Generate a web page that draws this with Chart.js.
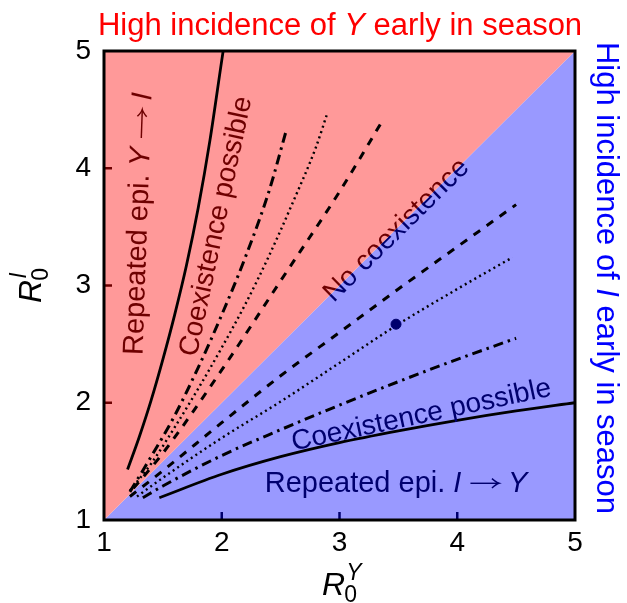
<!DOCTYPE html>
<html>
<head>
<meta charset="utf-8">
<script src="https://cdn.jsdelivr.net/npm/chart.js@4.4.1/dist/chart.umd.min.js"></script>
<style>
  html, body { margin: 0; padding: 0; background: #fff; }
</style>
</head>
<body>
<canvas id="chart" width="627" height="603"></canvas>
<script>
// axis range and ticks
const axisMin = 1;
const axisMax = 5;
const tickValues = [1, 2, 3, 4, 5];

// region boundary (diagonal R0^I = R0^Y)
const diagX = [1, 5];
const diagY = [1, 5];

// curves above the diagonal (Y early)
const redSolidX = [1.2, 1.3, 1.4, 1.5, 1.6, 1.7, 1.8, 1.9, 2.0, 2.012];
const redSolidY = [1.43, 1.71, 2.02, 2.37, 2.75, 3.17, 3.66, 4.24, 4.92, 5.0];
const redDashDotX = [1.22, 1.4, 1.6, 1.8, 2.0, 2.2, 2.4, 2.55];
const redDashDotY = [1.24, 1.54, 1.89, 2.3, 2.75, 3.24, 3.8, 4.33];
const redDottedX = [1.22, 1.4, 1.6, 1.8, 2.0, 2.2, 2.4, 2.6, 2.8, 2.9];
const redDottedY = [1.25, 1.48, 1.79, 2.12, 2.47, 2.84, 3.25, 3.7, 4.18, 4.48];
const redDashedX = [1.25, 1.5, 2.0, 2.5, 3.0, 3.38];
const redDashedY = [1.27, 1.57, 2.28, 3.04, 3.8, 4.43];

// curves below the diagonal (I early)
const blueDashedX = [1.22, 1.5, 2.0, 2.5, 3.0, 3.5, 4.0, 4.5];
const blueDashedY = [1.2, 1.42, 1.83, 2.23, 2.6, 2.97, 3.33, 3.69];
const blueDottedX = [1.28, 1.5, 2.0, 2.5, 3.0, 3.5, 4.0, 4.47];
const blueDottedY = [1.2, 1.36, 1.7, 2.01, 2.34, 2.67, 2.97, 3.24];
const blueDashDotX = [1.33, 1.5, 2.0, 2.5, 3.0, 3.5, 4.0, 4.5];
const blueDashDotY = [1.19, 1.29, 1.55, 1.77, 1.98, 2.18, 2.37, 2.55];
const blueSolidX = [1.47, 2.0, 2.5, 3.0, 3.5, 4.0, 4.5, 5.0];
const blueSolidY = [1.19, 1.39, 1.54, 1.66, 1.76, 1.85, 1.93, 2.0];

// marked point
const markX = [3.48];
const markY = [2.67];

const FONT = '"Liberation Sans", Arial, Helvetica, sans-serif';
const RED_FILL = 'rgb(255,153,153)';
const BLUE_FILL = 'rgb(153,153,255)';
const DARK_RED = 'rgb(110,0,0)';
const DARK_BLUE = 'rgb(0,0,110)';

function pts(xs, ys) {
    return xs.map((x, i) => ({ x: x, y: ys[i] }));
}

function curve(xs, ys, dash, width) {
    return {
        data: pts(xs, ys),
        borderColor: '#000',
        borderWidth: width,
        borderDash: dash,
        borderCapStyle: 'butt',
        pointRadius: 0,
        fill: false,
        cubicInterpolationMode: 'monotone',
        order: 1
    };
}

// draw a run of text pieces (some italic, maybe a long arrow) centred on cx
function drawRich(ctx, parts, cx, cy, angle, size, color) {
    ctx.save();
    ctx.translate(cx, cy);
    ctx.rotate(angle * Math.PI / 180);
    ctx.fillStyle = color;
    ctx.strokeStyle = color;
    ctx.textBaseline = 'alphabetic';
    ctx.textAlign = 'left';
    let total = 0;
    parts.forEach(p => {
        if (p.arrow) {
            p.w = size * 1.05;
        } else {
            ctx.font = (p.i ? 'italic ' : '') + size + 'px ' + FONT;
            p.w = ctx.measureText(p.t).width;
        }
        total += p.w;
    });
    let x = -total / 2;
    parts.forEach(p => {
        if (p.arrow) {
            const ay = -size * 0.3;
            const x1 = x + p.w - 1;
            ctx.lineWidth = size * 0.05;
            ctx.beginPath();
            ctx.moveTo(x + 1, ay);
            ctx.lineTo(x1, ay);
            ctx.stroke();
            ctx.beginPath();
            ctx.moveTo(x1 - size * 0.24, ay - size * 0.16);
            ctx.quadraticCurveTo(x1 - size * 0.08, ay - size * 0.02, x1, ay);
            ctx.quadraticCurveTo(x1 - size * 0.08, ay + size * 0.02, x1 - size * 0.24, ay + size * 0.16);
            ctx.stroke();
        } else {
            ctx.font = (p.i ? 'italic ' : '') + size + 'px ' + FONT;
            ctx.fillText(p.t, x, 0);
        }
        x += p.w;
    });
    ctx.restore();
}

// R_0^sup symbol
function drawR0(ctx, cx, cy, angle, sup) {
    ctx.save();
    ctx.translate(cx, cy);
    ctx.rotate(angle * Math.PI / 180);
    ctx.fillStyle = '#000';
    ctx.textBaseline = 'alphabetic';
    ctx.font = 'italic 32px ' + FONT;
    const wR = ctx.measureText('R').width;
    ctx.font = '23px ' + FONT;
    const w0 = ctx.measureText('0').width;
    const x0 = -(wR + w0) / 2;
    ctx.font = 'italic 32px ' + FONT;
    ctx.fillText('R', x0, 0);
    ctx.font = '23px ' + FONT;
    ctx.fillText('0', x0 + wR - 1, 7);
    ctx.font = 'italic 23px ' + FONT;
    ctx.fillText(sup, x0 + wR + 1, -15);
    ctx.restore();
}

const decor = {
    id: 'decor',
    afterDatasetsDraw(chart) {
        const ctx = chart.ctx;
        const xs = chart.scales.x, ys = chart.scales.y;
        const px = v => xs.getPixelForValue(v);
        const py = v => ys.getPixelForValue(v);

        // in-plot labels
        drawRich(ctx, [{ t: 'Repeated epi. ' }, { t: 'Y', i: true }, { t: ' ' }, { arrow: true }, { t: ' ' }, { t: 'I', i: true }],
            147, 224, -88, 29, DARK_RED);
        drawRich(ctx, [{ t: 'Coexistence possible' }], 224, 228, -78, 28, DARK_RED);
        drawRich(ctx, [{ t: 'Coexistence possible' }], 423, 423, -12, 28, DARK_BLUE);
        drawRich(ctx, [{ t: 'Repeated epi. ' }, { t: 'I', i: true }, { t: ' ' }, { arrow: true }, { t: ' ' }, { t: 'Y', i: true }],
            396, 492, 0, 29, DARK_BLUE);

        // "No coexistence" straddles the diagonal: two colours
        [[DARK_RED, [[axisMin, axisMin], [axisMin, axisMax], [axisMax, axisMax]]],
         [DARK_BLUE, [[axisMin, axisMin], [axisMax, axisMin], [axisMax, axisMax]]]].forEach(([col, tri]) => {
            ctx.save();
            ctx.beginPath();
            tri.forEach(([u, v], i) => i ? ctx.lineTo(px(u), py(v)) : ctx.moveTo(px(u), py(v)));
            ctx.closePath();
            ctx.clip();
            drawRich(ctx, [{ t: 'No coexistence' }], 402, 236, -44.5, 28, col);
            ctx.restore();
        });
    },
    afterDraw(chart) {
        const ctx = chart.ctx;
        const a = chart.chartArea;
        const xs = chart.scales.x, ys = chart.scales.y;

        // inner tick marks
        ctx.save();
        ctx.lineWidth = 2.5;
        tickValues.slice(1, -1).forEach(v => {
            const yy = ys.getPixelForValue(v);
            ctx.strokeStyle = DARK_RED;
            ctx.beginPath(); ctx.moveTo(a.left, yy); ctx.lineTo(a.left + 8, yy); ctx.stroke();
            const xx = xs.getPixelForValue(v);
            ctx.strokeStyle = DARK_BLUE;
            ctx.beginPath(); ctx.moveTo(xx, a.bottom); ctx.lineTo(xx, a.bottom - 8); ctx.stroke();
        });
        // frame
        ctx.strokeStyle = '#000';
        ctx.lineWidth = 3;
        ctx.strokeRect(a.left, a.top, a.right - a.left, a.bottom - a.top);
        ctx.restore();

        // titles
        drawRich(ctx, [{ t: 'High incidence of ' }, { t: 'Y', i: true }, { t: ' early in season' }],
            340, 35, 0, 31, '#ff0000');
        drawRich(ctx, [{ t: 'High incidence of ' }, { t: 'I', i: true }, { t: ' early in season' }],
            597, 278, 90, 31, '#0000ff');

        // axis titles
        drawR0(ctx, 340, 595, 0, 'Y');
        drawR0(ctx, 41, 285, -90, 'I');
    }
};

new Chart(document.getElementById('chart'), {
    type: 'line',
    data: {
        datasets: [
            {
                data: pts(markX, markY),
                showLine: false,
                pointRadius: 5,
                pointBackgroundColor: DARK_BLUE,
                pointBorderColor: DARK_BLUE,
                order: 0
            },
            curve(redSolidX, redSolidY, [], 2.8),
            curve(redDashDotX, redDashDotY, [10, 5, 2.5, 5], 3),
            curve(redDottedX, redDottedY, [2, 3.5], 2.4),
            curve(redDashedX, redDashedY, [8, 8], 3),
            curve(blueDashedX, blueDashedY, [8, 8], 3),
            curve(blueDottedX, blueDottedY, [2, 3.5], 2.4),
            curve(blueDashDotX, blueDashDotY, [10, 5, 2.5, 5], 3),
            curve(blueSolidX, blueSolidY, [], 2.8),
            {
                data: pts(diagX, diagY),
                borderWidth: 0,
                pointRadius: 0,
                backgroundColor: RED_FILL,
                fill: 'end',
                order: 5
            },
            {
                data: pts(diagX, diagY),
                borderWidth: 0,
                pointRadius: 0,
                backgroundColor: BLUE_FILL,
                fill: 'start',
                order: 5
            }
        ]
    },
    options: {
        responsive: false,
        animation: false,
        devicePixelRatio: 1,
        layout: { padding: { left: 0, top: 51, right: 52, bottom: 0 } },
        plugins: {
            legend: { display: false },
            tooltip: { enabled: false },
            filler: { propagate: false }
        },
        scales: {
            x: {
                type: 'linear',
                min: axisMin,
                max: axisMax,
                grid: { display: false, drawTicks: false },
                border: { display: false },
                ticks: {
                    stepSize: 1,
                    autoSkip: false,
                    maxRotation: 0,
                    padding: 6,
                    color: '#000',
                    font: { family: FONT, size: 28 }
                },
                afterFit(scale) { scale.height = 83; }
            },
            y: {
                type: 'linear',
                min: axisMin,
                max: axisMax,
                grid: { display: false, drawTicks: false },
                border: { display: false },
                ticks: {
                    stepSize: 1,
                    autoSkip: false,
                    padding: 13,
                    color: '#000',
                    font: { family: FONT, size: 28 }
                },
                afterFit(scale) { scale.width = 104; }
            }
        }
    },
    plugins: [decor]
});
</script>
</body>
</html>
